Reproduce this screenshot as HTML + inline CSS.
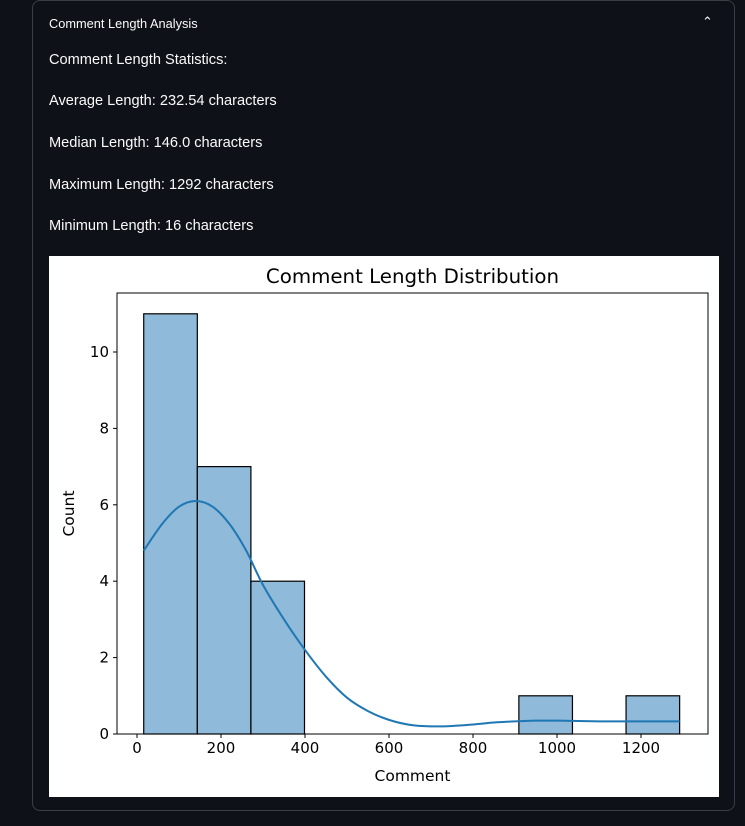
<!DOCTYPE html>
<html><head><meta charset="utf-8">
<style>
body{margin:0;background:#0e1117;width:745px;height:826px;overflow:hidden;font-family:"Liberation Sans","DejaVu Sans",sans-serif;color:#fafafa}
.panel{position:absolute;left:32px;top:0;width:703px;height:811px;border:1px solid #3a3d45;border-radius:8px;box-sizing:border-box}
.t{position:absolute;left:49px;font-size:14.6px;color:#fafafa}
</style></head><body>
<div class="panel"></div>
<div class="t" style="top:16px;font-size:12.8px">Comment Length Analysis</div>
<div style="position:absolute;left:702px;top:14px;font-size:13px">&#8963;</div>
<div class="t" style="top:52px">Comment Length Statistics:</div>
<div class="t" style="top:93px">Average Length: 232.54 characters</div>
<div class="t" style="top:135px">Median Length: 146.0 characters</div>
<div class="t" style="top:177px">Maximum Length: 1292 characters</div>
<div class="t" style="top:218px">Minimum Length: 16 characters</div>
<svg id="chart" style="position:absolute;left:49px;top:256px" width="670" height="541"></svg>
<script>
const binStart=16, binEnd=1292;
const counts=[11,7,4,0,0,0,0,1,0,1];
const kdeX=[16,60,100,140,180,220,260,300,350,400,450,500,550,600,650,700,750,800,850,900,950,1000,1050,1100,1150,1200,1250,1292];
const kdeY=[4.8,5.5,5.95,6.1,5.95,5.5,4.8,3.9,3.0,2.2,1.5,0.95,0.6,0.37,0.24,0.2,0.21,0.25,0.3,0.33,0.35,0.35,0.34,0.33,0.33,0.33,0.33,0.33];
const xTicks=[0,200,400,600,800,1000,1200];
const yTicks=[0,2,4,6,8,10];
const ns="http://www.w3.org/2000/svg";
const svg=document.getElementById('chart');
const L=68,R=659,T=37,B=478;
const X=v=>88+v*0.42;
const Y=v=>B-v*38.2;
function mk(tag,attrs,txt){const e=document.createElementNS(ns,tag);for(const k in attrs)e.setAttribute(k,attrs[k]);if(txt!==undefined)e.textContent=txt;svg.appendChild(e);return e;}
const bg=mk('rect',{x:0,y:0,width:670,height:541,fill:'#fff'});


const w=(binEnd-binStart)/counts.length;
counts.forEach((c,i)=>{if(!c)return;
const x0=X(binStart+i*w),x1=X(binStart+(i+1)*w);
const r=mk('rect',{x:x0,y:Y(c),width:x1-x0,height:Y(0)-Y(c),fill:'#8fbad9',stroke:'#000','stroke-width':1.2});

});
let d='';const pts=kdeX.map((v,i)=>[X(v),Y(kdeY[i])]);
d='M'+pts[0];
for(let i=0;i<pts.length-1;i++){const p0=pts[Math.max(0,i-1)],p1=pts[i],p2=pts[i+1],p3=pts[Math.min(pts.length-1,i+2)];
d+=' C'+(p1[0]+(p2[0]-p0[0])/6)+','+(p1[1]+(p2[1]-p0[1])/6)+' '+(p2[0]-(p3[0]-p1[0])/6)+','+(p2[1]-(p3[1]-p1[1])/6)+' '+p2;}
const kde=mk('path',{d:d,fill:'none',stroke:'#1f77b4','stroke-width':2});


const ax=mk('rect',{x:L,y:T,width:R-L,height:B-T,fill:'none',stroke:'#000','stroke-width':1});


xTicks.forEach(v=>{mk('line',{x1:X(v),x2:X(v),y1:B,y2:B+4,stroke:'#000'});
const t=mk('text',{x:X(v),y:B+19,'text-anchor':'middle','font-size':15,fill:'#000','font-family':'DejaVu Sans,sans-serif'},v);

});
yTicks.forEach(v=>{mk('line',{x1:L-4,x2:L,y1:Y(v),y2:Y(v),stroke:'#000'});
const t=mk('text',{x:L-8,y:Y(v)+5,'text-anchor':'end','font-size':15,fill:'#000','font-family':'DejaVu Sans,sans-serif'},v);

});
const tt=mk('text',{x:(L+R)/2,y:27,'text-anchor':'middle','font-size':19.8,fill:'#000','font-family':'DejaVu Sans,sans-serif'},'Comment Length Distribution');


const xl=mk('text',{x:(L+R)/2,y:525,'text-anchor':'middle','font-size':15.5,fill:'#000','font-family':'DejaVu Sans,sans-serif'},'Comment');


const yl=mk('text',{x:25,y:(T+B)/2,'text-anchor':'middle','font-size':15.5,fill:'#000','font-family':'DejaVu Sans,sans-serif',transform:'rotate(-90 25 '+((T+B)/2)+')'},'Count');


</script>
</body></html>
